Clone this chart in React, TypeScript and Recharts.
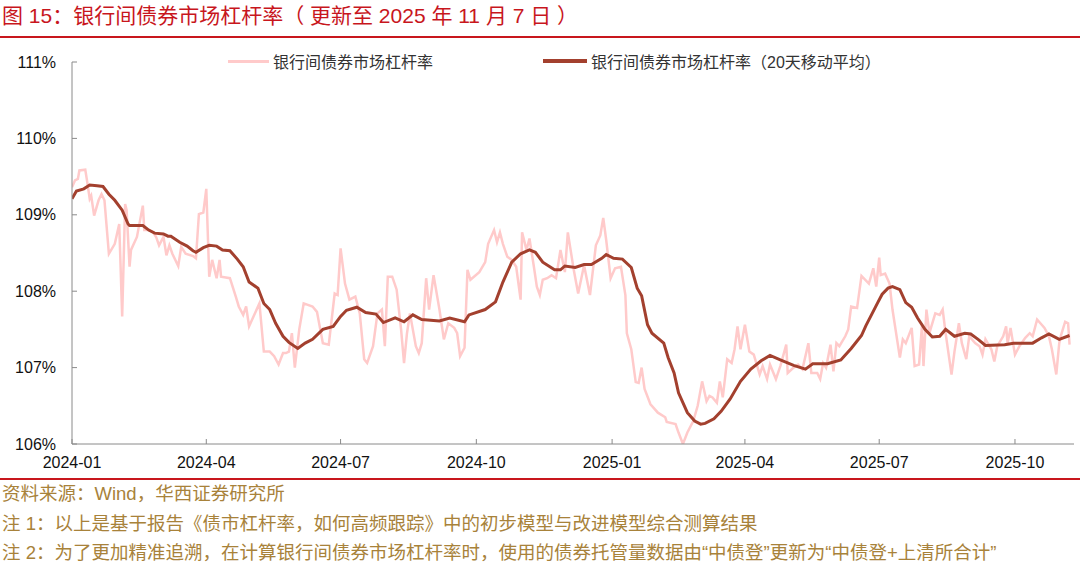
import React from 'react';
import { LineChart, Line, XAxis, YAxis, Legend } from 'recharts';

// Day offsets counted from 2024-01-01
const rawDay = [
  0, 2, 4, 5, 9, 10, 12, 13, 15, 18, 20, 22, 25, 29, 32, 34, 36, 37, 39, 40, 44, 48, 49, 52, 55, 57, 59, 62, 64, 66,
  68, 72, 74, 77, 82, 84, 86, 89, 91, 93, 95, 98, 100, 101, 107, 111, 113, 116, 118, 120, 123, 127, 130, 134, 137,
  140, 143, 145, 147, 149, 151, 154, 157, 163, 166, 170, 174, 178, 180, 182, 185, 188, 192, 195, 198, 200, 204, 207,
  210, 212, 214, 217, 220, 223, 225, 227, 229, 233, 235, 237, 240, 242, 245, 249, 252, 255, 259, 261, 263, 266, 268,
  270, 276, 280, 282, 286, 288, 290, 292, 295, 298, 301, 304, 305, 308, 310, 313, 315, 317, 319, 322, 325, 328, 331,
  334, 336, 340, 343, 347, 351, 355, 358, 360, 362, 365, 368, 372, 375, 376, 379, 382, 384, 386, 388, 392, 397, 402,
  403, 409, 411, 414, 417, 421, 424, 427, 430, 432, 434, 437, 439, 441, 444, 447, 449, 451, 453, 456, 459, 462, 466,
  468, 471, 473, 477, 480, 484, 485, 489, 492, 495, 499, 501, 505, 507, 509, 511, 514, 516, 518, 520, 524, 526, 528,
  532, 535, 540, 543, 545, 547, 548, 551, 554, 556, 561, 563, 565, 569, 571, 574, 576, 577, 579, 581, 585, 588, 590,
  592, 596, 598, 601, 603, 606, 608, 612, 615, 617, 619, 623, 625, 627, 631, 633, 634, 636, 639, 642, 646, 649, 651,
  654, 659, 662, 664, 667, 669, 670, 673, 675, 676,
];
const rawValue = [
  109.36, 109.45, 109.47, 109.58, 109.59, 109.47, 109.21, 109.25, 108.99, 109.19, 109.27, 109.19, 108.49, 108.62,
  108.88, 107.67, 109.14, 109.06, 108.32, 108.54, 108.71, 109.12, 108.8, 108.8, 108.77, 108.71, 108.6, 108.71, 108.47,
  108.6, 108.49, 108.33, 108.58, 108.49, 108.46, 108.43, 109.01, 109.03, 109.34, 108.19, 108.41, 108.17, 108.41,
  108.19, 108.17, 107.93, 107.8, 107.69, 107.8, 107.54, 107.67, 107.84, 107.21, 107.21, 107.15, 107.04, 107.19, 107.19,
  107.21, 107.45, 107.0, 107.5, 107.84, 107.8, 107.73, 107.32, 107.3, 107.97, 107.95, 108.56, 108.1, 107.89, 107.93,
  107.71, 107.11, 107.06, 107.28, 107.71, 107.76, 107.28, 108.19, 108.19, 108.02, 107.5, 107.06, 107.45, 107.71,
  107.28, 107.19, 107.32, 108.17, 107.76, 108.21, 107.76, 107.37, 107.58, 107.52, 107.45, 107.15, 107.26, 108.28,
  108.15, 108.25, 108.38, 108.62, 108.8, 108.64, 108.77, 108.62, 108.45, 108.41, 108.32, 107.89, 108.77, 108.54,
  108.69, 108.32, 108.06, 107.95, 108.15, 108.17, 108.21, 108.17, 108.54, 108.25, 108.77, 108.28, 107.97, 108.34,
  107.95, 108.6, 108.73, 108.96, 108.67, 108.17, 108.3, 108.32, 107.95, 107.45, 107.24, 106.81, 106.8, 107.0, 106.72,
  106.52, 106.41, 106.35, 106.29, 106.26, 106.15, 106.0, 106.15, 106.3, 106.5, 106.82, 106.56, 106.63, 106.61, 106.54,
  106.82, 106.61, 107.11, 107.06, 107.24, 107.54, 107.24, 107.56, 107.21, 107.17, 106.91, 107.02, 106.85, 107.04,
  106.85, 107.02, 107.3, 106.93, 107.0, 107.04, 106.98, 107.32, 106.93, 106.93, 106.85, 107.06, 107.0, 107.3, 106.95,
  107.32, 107.28, 107.41, 107.5, 107.8, 107.78, 108.2, 108.1, 108.3, 108.06, 108.44, 108.21, 108.23, 108.1, 107.76,
  107.13, 107.37, 107.32, 107.52, 107.02, 107.04, 107.56, 107.02, 107.76, 107.45, 107.71, 107.69, 107.76, 107.45,
  106.91, 107.21, 107.58, 107.32, 107.11, 107.41, 107.32, 107.28, 107.17, 107.37, 107.24, 107.08, 107.28, 107.41,
  107.54, 107.32, 107.52, 107.17, 107.28, 107.39, 107.45, 107.41, 107.63, 107.52, 107.41, 107.24, 106.91, 107.32,
  107.41, 107.6, 107.58, 107.3,
];

const maDay = [
  0, 3, 8, 12, 17, 21, 25, 29, 34, 38, 39, 48, 52, 56, 62, 65, 67, 73, 78, 82, 84, 89, 93, 98, 102, 107, 112, 116, 120,
  126, 130, 134, 138, 143, 147, 153, 158, 163, 170, 177, 182, 186, 193, 199, 206, 211, 219, 225, 231, 237, 249, 256,
  266, 269, 280, 287, 292, 298, 304, 310, 314, 319, 327, 331, 334, 341, 347, 352, 359, 362, 367, 373, 379, 383, 386,
  390, 393, 401, 404, 408, 411, 417, 422, 426, 429, 435, 440, 446, 453, 460, 467, 473, 480, 489, 497, 502, 512, 521,
  528, 535, 538, 542, 546, 549, 553, 556, 561, 565, 569, 573, 578, 583, 588, 592, 598, 605, 609, 614, 619, 632, 638,
  651, 657, 662, 669, 676,
];
const maValue = [
  109.21, 109.31, 109.34, 109.39, 109.38, 109.37, 109.27, 109.19, 109.06, 108.88, 108.86, 108.86, 108.8, 108.76,
  108.75, 108.72, 108.72, 108.64, 108.59, 108.53, 108.51, 108.57, 108.6, 108.59, 108.54, 108.53, 108.42, 108.32,
  108.12, 108.04, 107.84, 107.76, 107.58, 107.41, 107.33, 107.25, 107.32, 107.37, 107.5, 107.54, 107.67, 107.75,
  107.79, 107.72, 107.7, 107.59, 107.65, 107.6, 107.69, 107.63, 107.61, 107.65, 107.6, 107.69, 107.76, 107.86, 108.12,
  108.38, 108.49, 108.54, 108.51, 108.38, 108.28, 108.28, 108.33, 108.31, 108.35, 108.35, 108.43, 108.48, 108.43,
  108.42, 108.31, 108.04, 107.94, 107.56, 107.45, 107.32, 107.13, 106.93, 106.67, 106.41, 106.3, 106.26, 106.27,
  106.33, 106.43, 106.59, 106.82, 106.98, 107.09, 107.16, 107.1, 107.03, 106.98, 107.05, 107.05, 107.1, 107.25,
  107.42, 107.55, 107.7, 107.85, 107.96, 108.04, 108.06, 108.02, 107.85, 107.79, 107.65, 107.5, 107.4, 107.41, 107.5,
  107.41, 107.45, 107.44, 107.37, 107.29, 107.3, 107.32, 107.32, 107.39, 107.44, 107.37, 107.42,
];

const xTickDays = [0, 91, 182, 274, 366, 456, 547, 639];
const xTickLabels = ['2024-01', '2024-04', '2024-07', '2024-10', '2025-01', '2025-04', '2025-07', '2025-10'];
const yTicks = [106, 107, 108, 109, 110, 111];
const seriesNames = ['银行间债券市场杠杆率', '银行间债券市场杠杆率（20天移动平均）'];
const seriesColors = ['#FFCACA', '#A3402E'];

const titleText = '图 15：银行间债券市场杠杆率（ 更新至 2025 年 11 月 7 日 ）';
const footerLines = [
  '资料来源：Wind，华西证券研究所',
  '注 1：以上是基于报告《债市杠杆率，如何高频跟踪》中的初步模型与改进模型综合测算结果',
  '注 2：为了更加精准追溯，在计算银行间债券市场杠杆率时，使用的债券托管量数据由“中债登”更新为“中债登+上清所合计”',
];

const rawData = rawDay.map((d, i) => ({ d, v: rawValue[i] }));
const maData = maDay.map((d, i) => ({ d, v: maValue[i] }));

const FONT = '"Liberation Sans", Arial, "Noto Sans CJK SC", sans-serif';
const RED = '#C8161D';
const GOLD = '#A8823A';

const legendLefts = [228, 543];

function LegendContent(props: any) {
  const payload = props.payload || [];
  return (
    <div style={{ position: 'relative', width: 1080, height: 22 }}>
      {payload.map((entry: any, i: number) => (
        <div
          key={i}
          style={{
            position: 'absolute',
            left: legendLefts[i],
            top: 0,
            display: 'flex',
            alignItems: 'center',
            height: 22,
            whiteSpace: 'nowrap',
          }}
        >
          <span
            style={{
              display: 'inline-block',
              width: i === 0 ? 41 : 44,
              height: i === 0 ? 3 : 4,
              background: entry.color,
              marginRight: 4,
            }}
          />
          <span style={{ fontSize: 16, color: '#333', fontFamily: FONT }}>{entry.value}</span>
        </div>
      ))}
    </div>
  );
}

export default function App() {
  return (
    <div
      style={{
        position: 'absolute',
        left: 0,
        top: 0,
        width: 1080,
        height: 568,
        background: '#fff',
        fontFamily: FONT,
        overflow: 'hidden',
      }}
    >
      <div
        style={{
          position: 'absolute',
          left: 2,
          top: 4,
          fontSize: 21,
          lineHeight: '24px',
          color: RED,
          whiteSpace: 'nowrap',
        }}
      >
        {titleText}
      </div>
      <div style={{ position: 'absolute', left: 0, top: 36, width: 1080, height: 2, background: RED }} />
      <div style={{ position: 'absolute', left: 0, top: 0 }}>
        <LineChart width={1080} height={480} margin={{ top: 62, right: 6, bottom: 0, left: 0 }}>
          <XAxis
            type="number"
            dataKey="d"
            domain={[0, 679]}
            allowDataOverflow
            ticks={xTickDays}
            tickFormatter={(v: number) => xTickLabels[xTickDays.indexOf(v)] ?? ''}
            height={36}
            tickSize={-5}
            tickMargin={18}
            stroke="#8a8a8a"
            tick={{ fill: '#111', fontSize: 16, fontFamily: FONT }}
            interval={0}
          />
          <YAxis
            type="number"
            domain={[106, 111]}
            allowDataOverflow
            ticks={yTicks}
            tickFormatter={(v: number) => `${v}%`}
            width={72}
            tickSize={-5}
            tickMargin={21}
            stroke="#8a8a8a"
            tick={{ fill: '#111', fontSize: 16, fontFamily: FONT }}
            interval={0}
          />
          <Legend
            verticalAlign="middle"
            layout="horizontal"
            wrapperStyle={{ top: 50, left: 0, width: 1080, height: 22 }}
            content={<LegendContent />}
          />
          <Line
            data={rawData}
            dataKey="v"
            name={seriesNames[0]}
            type="linear"
            stroke={seriesColors[0]}
            strokeWidth={2.5}
            dot={false}
            activeDot={false}
            isAnimationActive={false}
          />
          <Line
            data={maData}
            dataKey="v"
            name={seriesNames[1]}
            type="linear"
            stroke={seriesColors[1]}
            strokeWidth={3}
            dot={false}
            activeDot={false}
            isAnimationActive={false}
          />
        </LineChart>
      </div>
      <div style={{ position: 'absolute', left: 0, top: 478, width: 1080, height: 2, background: RED }} />
      {footerLines.map((t, i) => (
        <div
          key={i}
          style={{
            position: 'absolute',
            left: 2,
            top: 482 + i * 29.5,
            fontSize: 18.5,
            lineHeight: '24px',
            color: GOLD,
            whiteSpace: 'nowrap',
          }}
        >
          {t}
        </div>
      ))}
    </div>
  );
}
